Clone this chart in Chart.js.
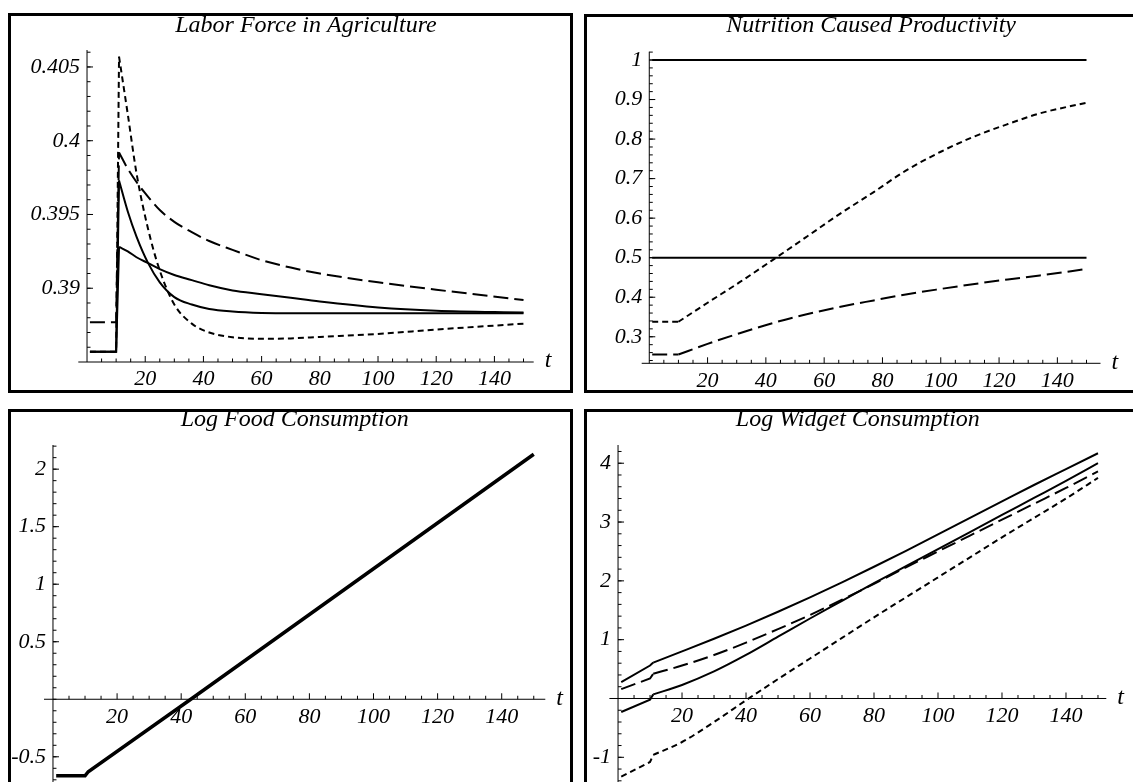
<!DOCTYPE html>
<html>
<head>
<meta charset="utf-8">
<script src="https://cdn.jsdelivr.net/npm/chart.js@4"></script>
<style>
  body { margin: 0; width: 1133px; height: 782px; overflow: hidden; background: #fff; position: relative; }
  .panel { position: absolute; border: 3px solid #000; box-sizing: border-box; background: #fff; }
  .panel canvas { position: absolute; left: 0; top: 0; }
</style>
</head>
<body>
<div class="panel" style="left:8px;top:13px;width:565px;height:380px"><canvas id="labor" width="559" height="374"></canvas></div>
<div class="panel" style="left:584px;top:14px;width:560px;height:379px"><canvas id="nutrition" width="554" height="373"></canvas></div>
<div class="panel" style="left:8px;top:409px;width:565px;height:400px"><canvas id="food" width="559" height="394"></canvas></div>
<div class="panel" style="left:584px;top:409px;width:560px;height:400px"><canvas id="widget" width="554" height="394"></canvas></div>
<script>
// values (t = time)
const laborT       = [1, 10, 11, 14, 17, 21, 25, 30, 36, 42, 50, 60, 70, 80, 100, 120, 150];
const laborSolidA  = [0.3857, 0.3857, 0.3973, 0.3952, 0.3935, 0.3917, 0.3904, 0.3894, 0.3889, 0.3886, 0.38843, 0.38833, 0.3883, 0.3883, 0.3883, 0.3883, 0.3883];
const laborSolidB  = [0.3857, 0.3857, 0.3928, 0.3925, 0.3921, 0.3917, 0.3913, 0.3909, 0.39055, 0.3902, 0.38985, 0.3896, 0.38935, 0.3891, 0.3887, 0.38848, 0.38836];
const laborDashed  = [0.3877, 0.3877, 0.3992, 0.3981, 0.3972, 0.3962, 0.3953, 0.3945, 0.3938, 0.3932, 0.3926, 0.3919, 0.3914, 0.3910, 0.3904, 0.3899, 0.3892];
const laborDotted  = [0.3857, 0.3857, 0.4057, 0.4018, 0.3978, 0.3940, 0.3912, 0.3889, 0.3876, 0.3870, 0.38668, 0.38657, 0.3866, 0.3867, 0.3869, 0.3872, 0.3876];

const nutT         = [1, 10, 20, 31, 43.5, 54, 65, 77, 88, 100, 111, 123, 134, 150];
const nutDotted    = [0.338, 0.338, 0.386, 0.438, 0.5, 0.553, 0.609, 0.666, 0.72, 0.768, 0.805, 0.838, 0.865, 0.892];
const nutDashed    = [0.255, 0.255, 0.282, 0.309, 0.337, 0.357, 0.375, 0.392, 0.407, 0.421, 0.433, 0.445, 0.455, 0.4715];
const nutFlatT     = [1, 150];
const nutFull      = [1, 1];
const nutHalf      = [0.5, 0.5];

const foodT        = [1, 10, 11, 43, 150];
const foodLog      = [-0.665, -0.665, -0.63, 0, 2.13];

const widgetT      = [1, 10, 11, 20, 30, 40, 50, 60, 70, 80, 90, 100, 110, 120, 130, 140, 150];
const widgetTop    = [0.28, 0.56, 0.61, 0.80, 1.015, 1.24, 1.475, 1.72, 1.975, 2.24, 2.51, 2.79, 3.07, 3.35, 3.63, 3.90, 4.17];
const widgetLow    = [-0.23, -0.02, 0.07, 0.23, 0.46, 0.74, 1.05, 1.36, 1.66, 1.96, 2.25, 2.54, 2.83, 3.12, 3.41, 3.70, 4.00];
const widgetDashed = [0.16, 0.34, 0.42, 0.56, 0.74, 0.95, 1.18, 1.42, 1.68, 1.95, 2.23, 2.50, 2.77, 3.04, 3.31, 3.58, 3.86];
const widgetDotted = [-1.33, -1.08, -0.96, -0.74, -0.40, -0.03, 0.33, 0.68, 1.03, 1.38, 1.72, 2.06, 2.40, 2.74, 3.07, 3.40, 3.75];

// tick labels
const tTicks       = [20, 40, 60, 80, 100, 120, 140];
const tTickLabels  = ['20', '40', '60', '80', '100', '120', '140'];
const laborYTicks  = [0.39, 0.395, 0.4, 0.405];
const laborYLabels = ['0.39', '0.395', '0.4', '0.405'];
const nutYTicks    = [0.3, 0.4, 0.5, 0.6, 0.7, 0.8, 0.9, 1];
const nutYLabels   = ['0.3', '0.4', '0.5', '0.6', '0.7', '0.8', '0.9', '1'];
const foodYTicks   = [-0.5, 0.5, 1, 1.5, 2];
const foodYLabels  = ['-0.5', '0.5', '1', '1.5', '2'];
const widgetYTicks = [-1, 1, 2, 3, 4];
const widgetYLabels = ['-1', '1', '2', '3', '4'];

const SERIF = 'Liberation Serif';
const DOTTED = [6, 4];
const DASHED = [15, 6];

const pts = (ts, vs) => ts.map((t, i) => ({x: t, y: vs[i]}));

function line(points, dash, width, smooth) {
  return {
    data: points,
    borderColor: '#000',
    borderWidth: width || 2,
    borderDash: dash || [],
    pointRadius: 0,
    fill: false,
    tension: 0,
    cubicInterpolationMode: smooth ? 'monotone' : 'default'
  };
}

// straight part up to index k, smooth curve after it
function split(ts, vs, k, dash, width) {
  return [
    line(pts(ts.slice(0, k + 1), vs.slice(0, k + 1)), dash, width, false),
    line(pts(ts.slice(k), vs.slice(k)), dash, width, true)
  ];
}

// Mathematica style axes: crossing lines, inward ticks, italic labels
const mathAxes = {
  id: 'mathAxes',
  beforeDatasetsDraw(chart, args, o) {
    const {ctx, chartArea: a, scales: {x, y}} = chart;
    const ax = y.getPixelForValue(o.cross);
    const ay = x.getPixelForValue(0);
    ctx.save();
    ctx.strokeStyle = '#000';
    ctx.lineWidth = 1;
    ctx.beginPath();
    ctx.moveTo(a.left, ax); ctx.lineTo(a.right, ax);
    ctx.moveTo(ay, a.top); ctx.lineTo(ay, a.bottom);
    for (let i = 1; i <= 30; i++) {
      const p = x.getPixelForValue(i * 5);
      const len = (i % 4 === 0) ? 6 : 3.5;
      ctx.moveTo(p, ax); ctx.lineTo(p, ax - len);
    }
    const [y0, step, count] = o.yMinor;
    for (let i = 0; i <= count; i++) {
      const p = y.getPixelForValue(y0 + i * step);
      ctx.moveTo(ay, p); ctx.lineTo(ay + 3.5, p);
    }
    o.yTicks.forEach(v => {
      const p = y.getPixelForValue(v);
      ctx.moveTo(ay, p); ctx.lineTo(ay + 6, p);
    });
    ctx.stroke();

    ctx.fillStyle = '#000';
    ctx.font = 'italic 22px "' + SERIF + '"';
    ctx.textAlign = 'center';
    ctx.textBaseline = 'middle';
    tTicks.forEach((v, i) => ctx.fillText(tTickLabels[i], x.getPixelForValue(v), ax + 17.5));
    ctx.textAlign = 'right';
    o.yTicks.forEach((v, i) => ctx.fillText(o.yLabels[i], ay - 7, y.getPixelForValue(v)));
    ctx.font = 'italic 24px "' + SERIF + '"';
    ctx.textAlign = 'left';
    ctx.fillText('t', a.right + 11, ax - 1);
    ctx.restore();
  }
};

function makeChart(id, cfg) {
  return new Chart(document.getElementById(id), {
    type: 'line',
    data: {datasets: cfg.datasets},
    options: {
      responsive: false,
      animation: false,
      devicePixelRatio: 1,
      layout: {padding: cfg.pad},
      scales: {
        x: {type: 'linear', display: false, min: cfg.x[0], max: cfg.x[1]},
        y: {type: 'linear', display: false, min: cfg.y[0], max: cfg.y[1]}
      },
      plugins: {
        legend: {display: false},
        tooltip: {enabled: false},
        title: {
          display: true,
          text: cfg.title,
          fullSize: false,
          color: '#000',
          font: {family: SERIF, style: 'italic', weight: 'normal', size: 24, lineHeight: cfg.titleLine + 'px'},
          padding: {top: 0, bottom: cfg.titleGap}
        },
        mathAxes: cfg.axes
      }
    },
    plugins: [mathAxes]
  });
}

makeChart('labor', {
  title: 'Labor Force in Agriculture',
  titleLine: 18.6, titleGap: 15.4,
  pad: {left: 67.3, right: 36.3, top: 0, bottom: 28},
  x: [-3, 153.5], y: [0.385, 0.40615],
  axes: {cross: 0.385, yTicks: laborYTicks, yLabels: laborYLabels, yMinor: [0.386, 0.001, 20]},
  datasets: [
    ...split(laborT, laborSolidA, 2),
    ...split(laborT, laborSolidB, 2),
    ...split(laborT, laborDashed, 2, DASHED),
    ...split(laborT, laborDotted, 2, DOTTED)
  ]
});

makeChart('nutrition', {
  title: 'Nutrition Caused Productivity',
  titleLine: 16.6, titleGap: 18.1,
  pad: {left: 54.7, right: 40.5, top: 0, bottom: 26.7},
  x: [-2.6, 154.8], y: [0.2329, 1.021],
  axes: {cross: 0.2329, yTicks: nutYTicks, yLabels: nutYLabels, yMinor: [0.24, 0.02, 39]},
  datasets: [
    line(pts(nutFlatT, nutFull)),
    line(pts(nutFlatT, nutHalf)),
    ...split(nutT, nutDashed, 1, DASHED),
    ...split(nutT, nutDotted, 1, DOTTED)
  ]
});

makeChart('food', {
  title: 'Log Food Consumption',
  titleLine: 14.6, titleGap: 18.4,
  pad: {left: 33, right: 24.7, top: 0, bottom: 23.9},
  x: [-2.8, 153.6], y: [-0.72, 2.21],
  axes: {cross: 0, yTicks: foodYTicks, yLabels: foodYLabels, yMinor: [-0.7, 0.1, 29]},
  datasets: [line(pts(foodT, foodLog), [], 3.5)]
});

makeChart('widget', {
  title: 'Log Widget Consumption',
  titleLine: 14.6, titleGap: 18.4,
  pad: {left: 22.4, right: 34.7, top: 0, bottom: 24},
  x: [-2.7, 152.6], y: [-1.42, 4.31],
  axes: {cross: 0, yTicks: widgetYTicks, yLabels: widgetYLabels, yMinor: [-1.4, 0.2, 28]},
  datasets: [
    ...split(widgetT, widgetTop, 2),
    ...split(widgetT, widgetLow, 2),
    ...split(widgetT, widgetDashed, 2, DASHED),
    ...split(widgetT, widgetDotted, 2, DOTTED)
  ]
});
</script>
</body>
</html>
